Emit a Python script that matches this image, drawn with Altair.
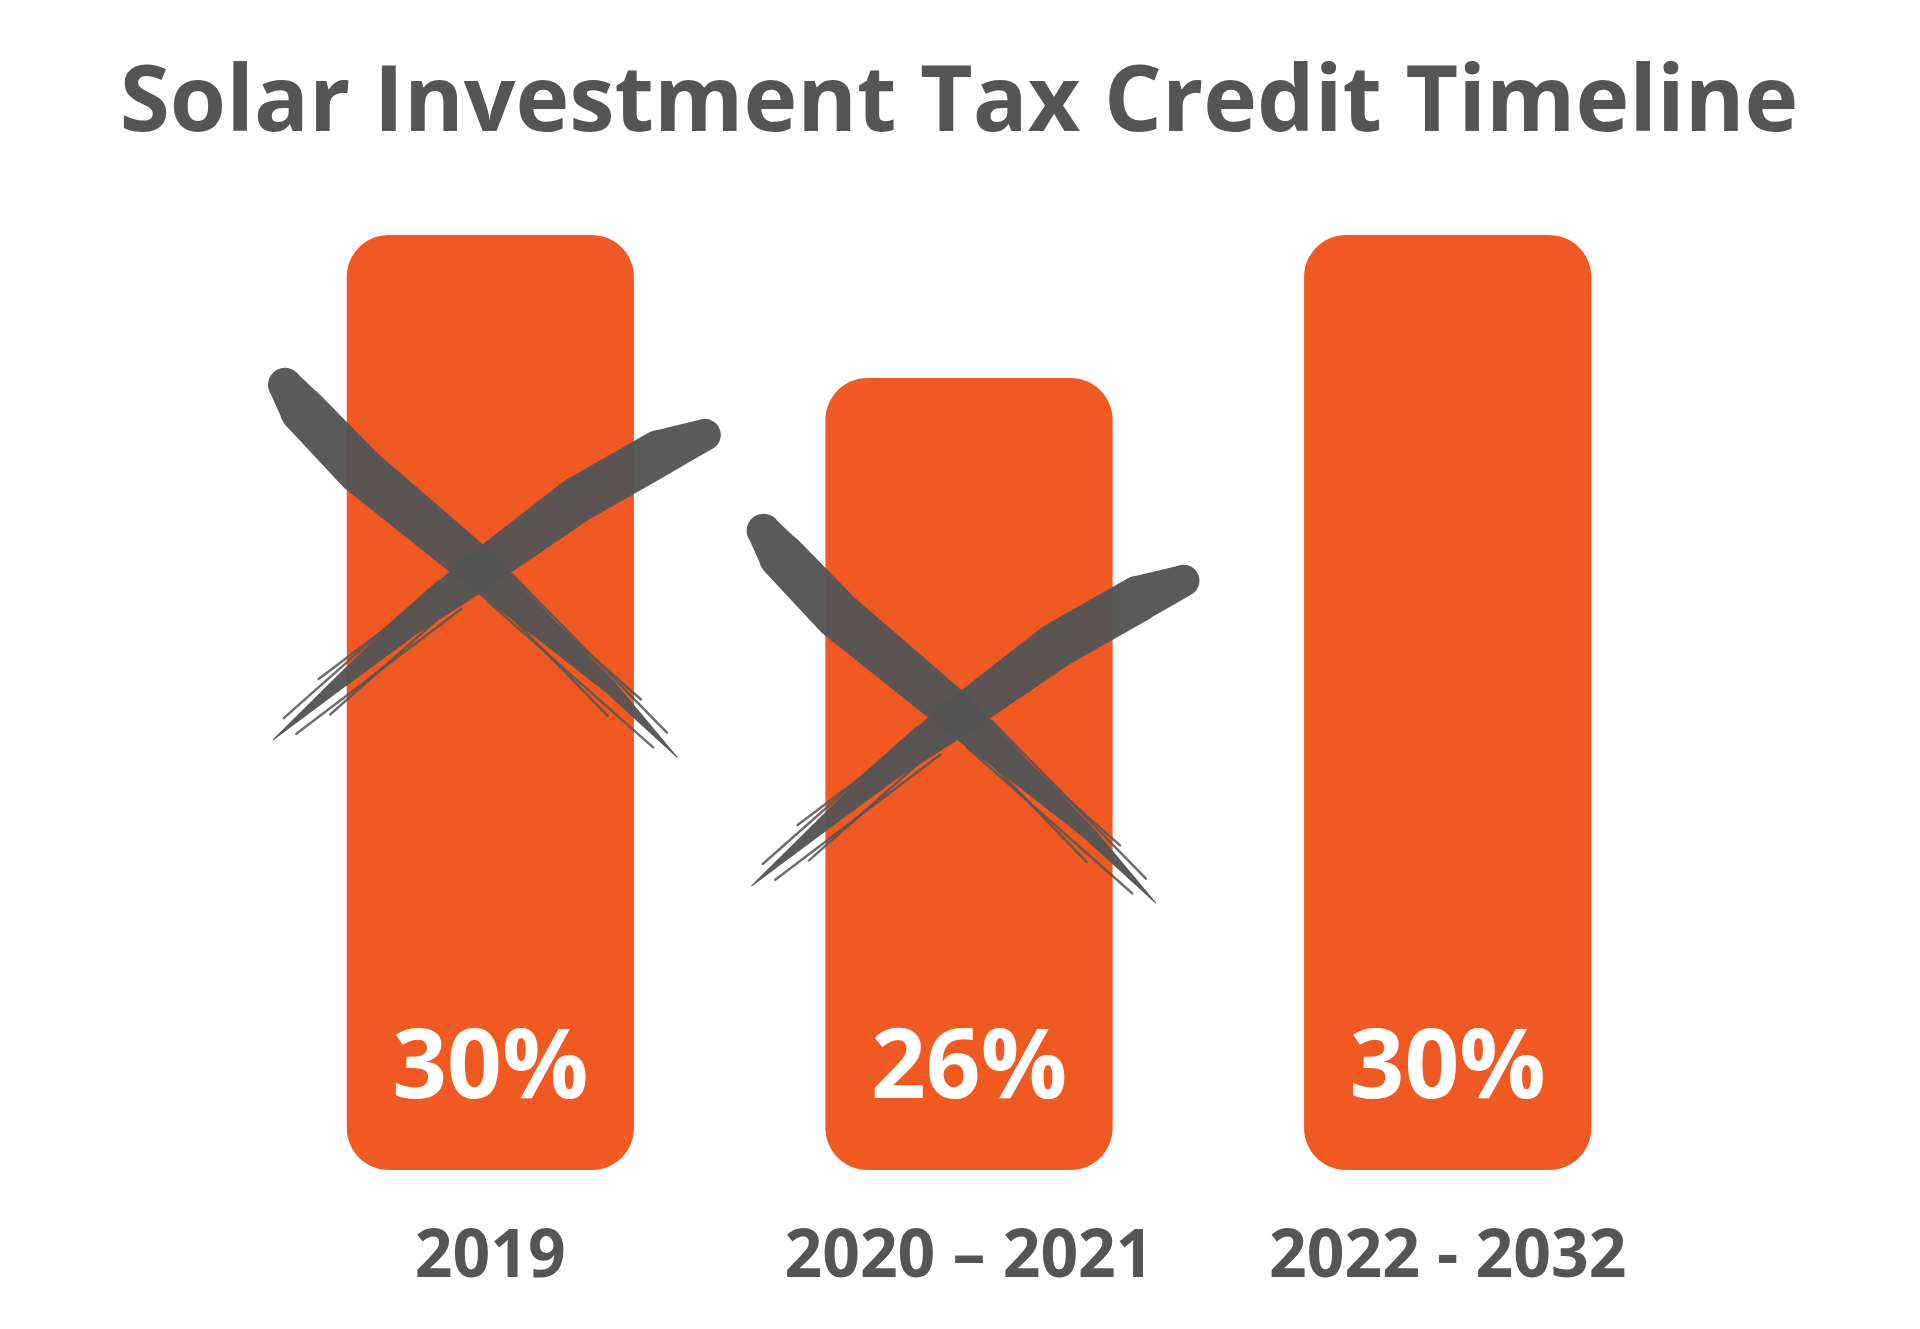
import altair as alt
import pandas as pd

# ---- data ----
periods = ["2019", "2020 – 2021", "2022 - 2032"]
credit = [30, 26, 30]
labels = ["30%", "26%", "30%"]

# brush-stroke crosses over the expired credits (x in bar-index units, y in % units)
stroke_id = ["1A"] * 7 + ["1B"] * 7 + ["2A"] * 7 + ["2B"] * 7
stroke_k = list(range(7)) * 4
stroke_x = [-0.429, -0.392, -0.272, -0.028, 0.110, 0.250, 0.390,
            -0.454, -0.308, -0.168, -0.028, 0.181, 0.354, 0.448,
            0.571, 0.608, 0.728, 0.972, 1.110, 1.250, 1.390,
            0.546, 0.692, 0.832, 0.972, 1.181, 1.354, 1.448]
stroke_y = [25.81, 25.11, 23.43, 20.72, 19.04, 17.36, 15.40,
            15.88, 17.56, 19.15, 20.55, 22.59, 23.91, 24.41,
            21.73, 21.03, 19.35, 16.64, 14.96, 13.28, 11.32,
            11.80, 13.48, 15.07, 16.47, 18.51, 19.83, 20.33]
stroke_w = [34, 46, 48, 42, 26, 14, 1,
            1, 14, 26, 38, 46, 46, 32,
            34, 46, 48, 42, 26, 14, 1,
            1, 14, 26, 38, 46, 46, 32]

# thin bristle lines in the tapering tails of the brush strokes
bristle_x1 = [0.0462, -0.0056, 0.0347, 0.0029, -0.0604, -0.1080, -0.0710, -0.1001,
              1.0469, 0.9951, 1.0354, 1.0036, 0.9403, 0.8927, 0.9297, 0.9006]
bristle_y1 = [20.50, 19.76, 20.33, 19.89, 19.55, 20.32, 19.72, 20.19,
              16.42, 15.68, 16.25, 15.81, 15.47, 16.24, 15.64, 16.11]
bristle_x2 = [0.3689, 0.3401, 0.3148, 0.2451, -0.4053, -0.4316, -0.3347, -0.3587,
              1.3696, 1.3408, 1.3155, 1.2458, 0.5954, 0.5691, 0.6660, 0.6420]
bristle_y2 = [16.08, 15.67, 17.01, 16.55, 16.05, 16.49, 16.59, 17.58,
              12.00, 11.59, 12.93, 12.47, 11.97, 12.41, 12.51, 13.50]

BASE = 3.85
YMAX = 30.98
ORANGE = "#F05A22"
GRAY = "#555555"
FONT = "Open Sans"

bars_df = pd.DataFrame({"period": periods, "credit": credit, "label": labels})
cross_df = pd.DataFrame({"sid": stroke_id, "k": stroke_k, "x": stroke_x,
                         "y": stroke_y, "w": stroke_w})
bristle_df = pd.DataFrame({"x": bristle_x1, "y": bristle_y1,
                           "x2": bristle_x2, "y2": bristle_y2})

xband = alt.Scale(paddingInner=0.4, paddingOuter=0.2)
yscale = alt.Scale(domain=[BASE, YMAX], zero=False, nice=False)
xq = alt.Scale(domain=[-0.5, 2.5], nice=False, zero=False)

bars = alt.Chart(bars_df).mark_bar(color=ORANGE, cornerRadius=42).encode(
    x=alt.X("period:N", sort=periods, scale=xband, title=None,
            axis=alt.Axis(labelAngle=0, labelFont=FONT, labelFontWeight="bold",
                          labelFontSize=66, labelColor=GRAY, domain=False,
                          ticks=False, tickSize=0, labelPadding=106,
                          labelBaseline="alphabetic", labelLimit=0, grid=False)),
    y=alt.Y("credit:Q", scale=yscale, axis=None),
    y2=alt.datum(BASE),
)

cross = alt.Chart(cross_df).mark_trail(color=GRAY, opacity=0.97).encode(
    x=alt.X("x:Q", scale=xq, axis=None),
    y=alt.Y("y:Q", scale=yscale, axis=None),
    size=alt.Size("w:Q", scale=None),
    detail="sid:N",
    order="k:O",
)

bristles = alt.Chart(bristle_df).mark_rule(color=GRAY, strokeWidth=2.5,
                                           opacity=0.85, strokeCap="round").encode(
    x=alt.X("x:Q", scale=xq, axis=None),
    y=alt.Y("y:Q", scale=yscale, axis=None),
    x2="x2:Q",
    y2="y2:Q",
)

text = alt.Chart(bars_df).mark_text(
    font=FONT, fontWeight="bold", fontSize=96, color="white",
    baseline="alphabetic", align="center", dy=-72,
).encode(
    x=alt.X("period:N", sort=periods, scale=xband, axis=None),
    y=alt.datum(BASE),
    text="label:N",
)

chart = alt.layer(bars, cross, bristles, text).resolve_scale(x="independent").properties(
    width=1436,
    height=970,
    background="white",
    autosize=alt.AutoSizeParams(type="none"),
    padding={"left": 251, "top": 200, "right": 233, "bottom": 159},
    title=alt.TitleParams(
        "Solar Investment Tax Credit Timeline",
        font=FONT, fontSize=91, fontWeight="bold", color=GRAY,
        anchor="middle", baseline="alphabetic", offset=74, dx=-10, dy=96,
    ),
).configure_view(stroke=None)

chart.save("out.html", embed_options={"renderer": "svg", "actions": False})
